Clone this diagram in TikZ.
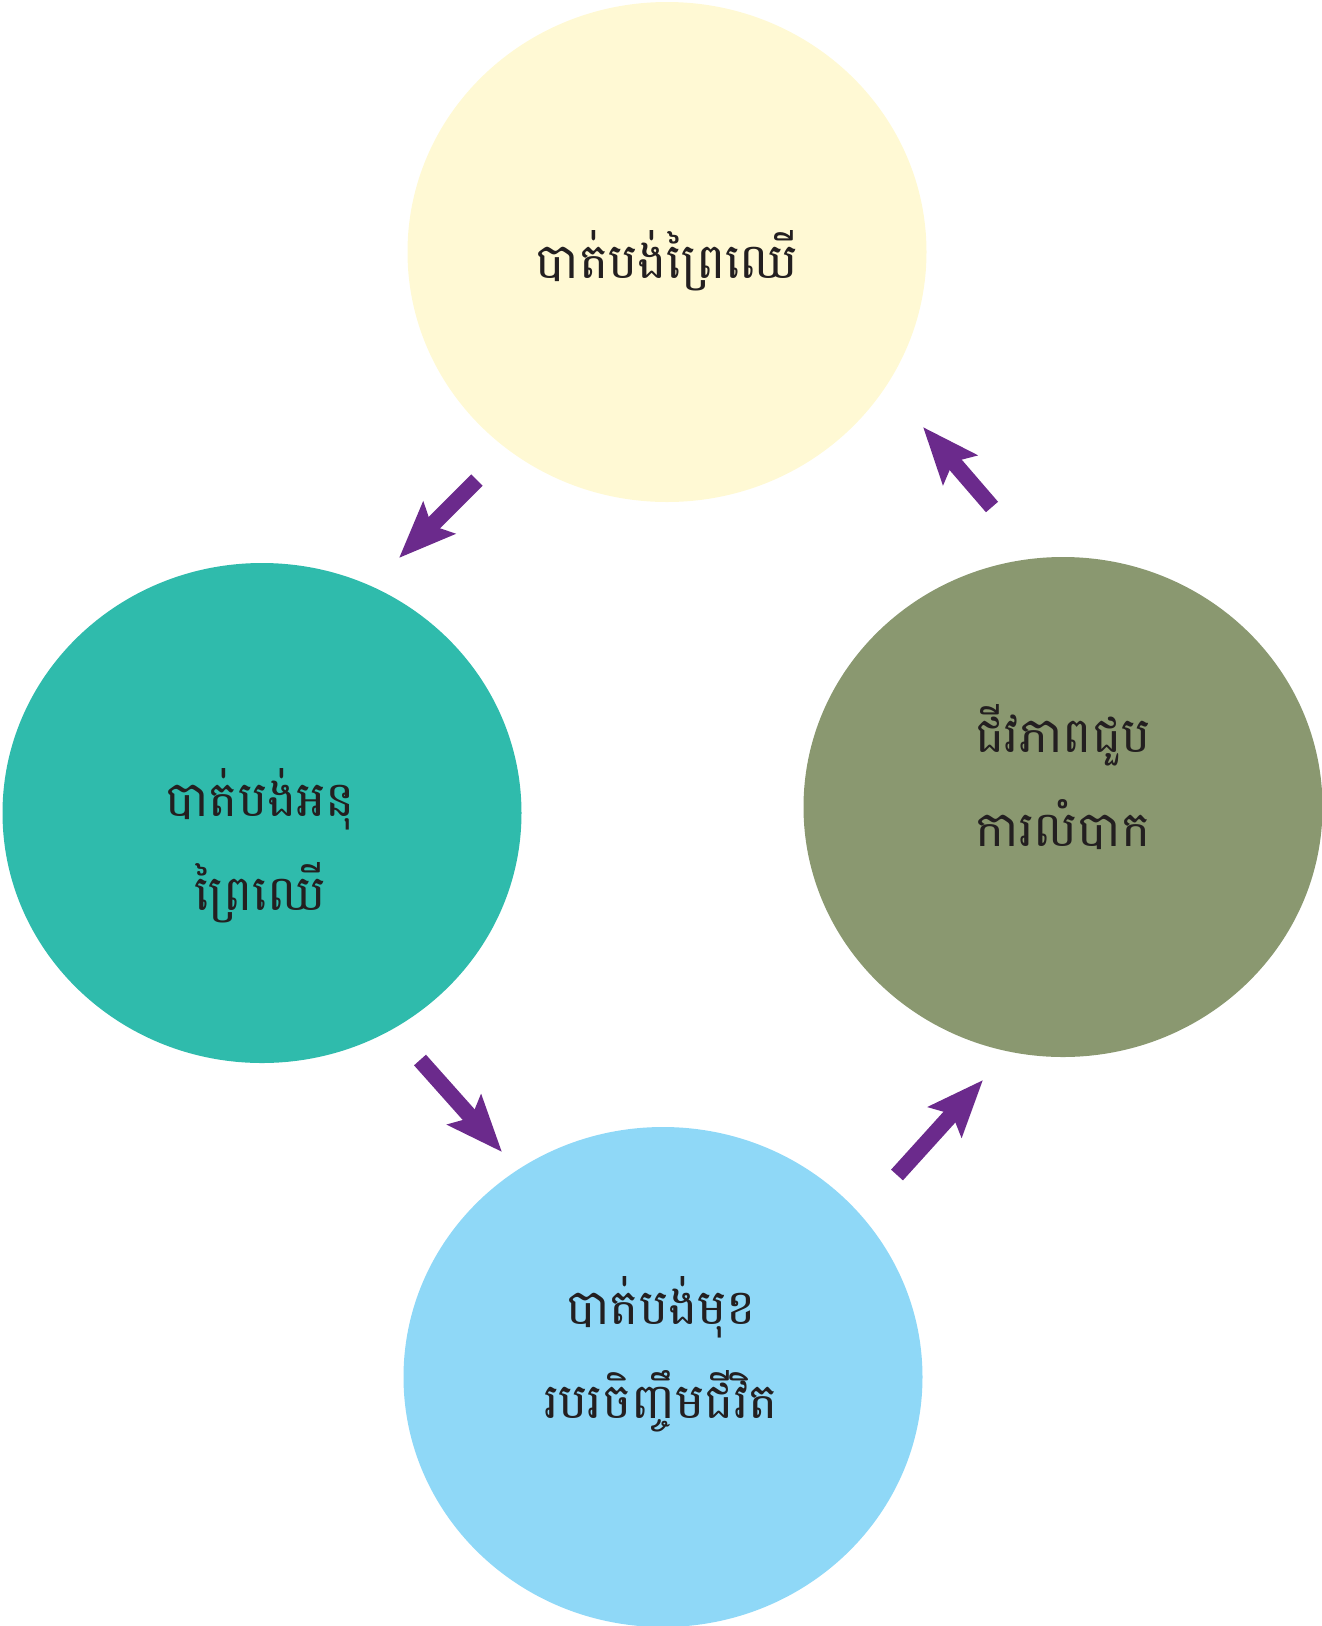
\documentclass[tikz,border=0pt]{standalone}
\usepackage{fontspec}
\newfontfamily\khmerfont[Script=Khmer]{Battambang}
\usetikzlibrary{shapes.geometric,arrows.meta}
\definecolor{cyellow}{HTML}{FFF9D4}
\definecolor{cteal}{HTML}{2FBBAC}
\definecolor{colive}{HTML}{8A9870}
\definecolor{cblue}{HTML}{8FD8F7}
\definecolor{cpurple}{HTML}{6B2A8C}
\definecolor{ctext}{HTML}{231F20}
\tikzset{
  blob/.style={ellipse, draw=none, inner sep=0pt, minimum width=519pt, minimum height=500pt},
  lbl/.style={font=\khmerfont\fontsize{49}{94}\selectfont, text=ctext, align=center, inner sep=0pt, anchor=base},
  bigarrow/.style={draw=cpurple, line width=16pt, line cap=butt,
    -{Stealth[length=56pt,width=44pt,inset=10pt,fill=cpurple]}}
}
\begin{document}
\begin{tikzpicture}[x=1pt,y=1pt]
\useasboundingbox (0,0) rectangle (1322,-1626);
\node[blob, fill=cyellow] (top) at (667,-252) {};
\node[blob, fill=cteal] (left) at (262,-813) {};
\node[blob, fill=colive] (right) at (1063,-807) {};
\node[blob, fill=cblue] (bottom) at (663,-1377) {};

\node[lbl] (ttop) at (667,-278) {បាត់បង់ព្រៃឈើ};
\node[lbl] (tleft) at (260,-910) {បាត់បង់អនុ\\ព្រៃឈើ};
\node[lbl] (tbottom) at (661,-1418) {បាត់បង់មុខ\\របរចិញ្ចឹមជីវិត};
\node[lbl] (tright) at (1063,-846) {ជីវភាពជួប\\ការលំបាក};

\coordinate (a1s) at (477,-480); \coordinate (a1e) at (399,-558);
\coordinate (a2s) at (420,-1060); \coordinate (a2e) at (502,-1152);
\coordinate (a3s) at (897,-1175); \coordinate (a3e) at (983,-1080);
\coordinate (a4s) at (992,-507); \coordinate (a4e) at (923,-427);
\draw[bigarrow] (a1s) -- (a1e);
\draw[bigarrow] (a2s) -- (a2e);
\draw[bigarrow] (a3s) -- (a3e);
\draw[bigarrow] (a4s) -- (a4e);
\end{tikzpicture}
\end{document}
